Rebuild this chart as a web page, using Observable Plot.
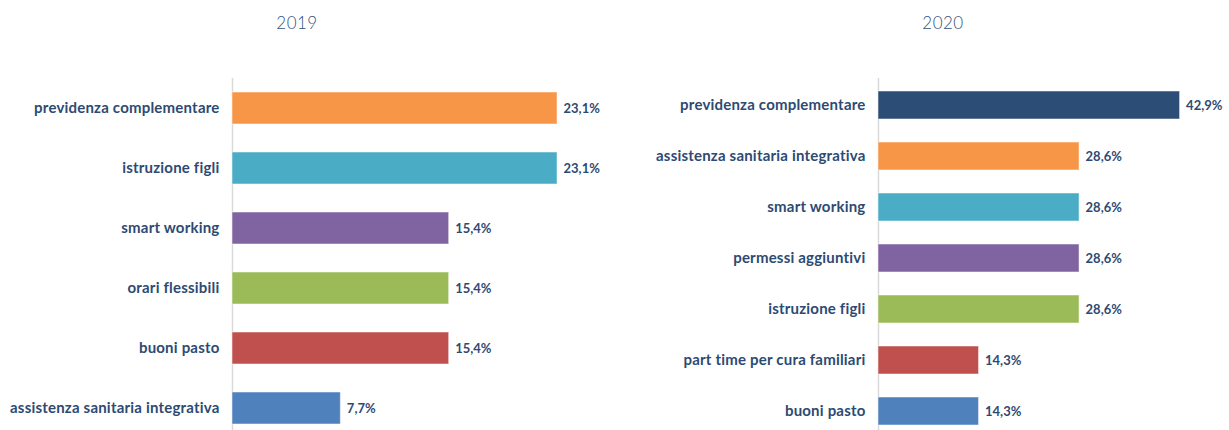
<!DOCTYPE html>
<html>
<head>
<meta charset="utf-8">
<script src="https://cdn.jsdelivr.net/npm/d3@7"></script>
<script src="https://cdn.jsdelivr.net/npm/@observablehq/plot@0.6"></script>
<style>
  html, body { margin: 0; padding: 0; background: #fff; }
  #wrap { position: relative; width: 1229px; height: 430px; overflow: hidden; font-family: Lato, "Open Sans", sans-serif; }
  .panel { position: absolute; top: 0; }
  .title { position: absolute; top: 12px; font-size: 17px; font-weight: 300; color: #34527e; transform: translateX(-50%); letter-spacing: 0.5px; }
  svg text { font-family: Lato, "Open Sans", sans-serif; }
  svg g[aria-label="y-axis tick label"] text { letter-spacing: 0.2px; }
</style>
</head>
<body>
<div id="wrap">
  <div class="title" style="left:297px">2019</div>
  <div class="title" style="left:943px">2020</div>
  <div class="panel" id="p2019" style="left:0px"></div>
  <div class="panel" id="p2020" style="left:615px"></div>
</div>
<script>
// ---- data ----
const categories2019 = ["previdenza complementare", "istruzione figli", "smart working", "orari flessibili", "buoni pasto", "assistenza sanitaria integrativa"];
const values2019 = [23.1, 23.1, 15.4, 15.4, 15.4, 7.7];
const palette2019 = ["#f79646", "#4bacc6", "#8064a2", "#9bbb59", "#c0504d", "#4f81bd"];

const categories2020 = ["previdenza complementare", "assistenza sanitaria integrativa", "smart working", "permessi aggiuntivi", "istruzione figli", "part time per cura familiari", "buoni pasto"];
const values2020 = [42.9, 28.6, 28.6, 28.6, 28.6, 14.3, 14.3];
const palette2020 = ["#2c4d75", "#f79646", "#4bacc6", "#8064a2", "#9bbb59", "#c0504d", "#4f81bd"];

const textColor = "#2d4a73";
const fmt = v => v.toFixed(1).replace(".", ",") + "%";

function panel(cats, vals, pal, opts) {
  const data = cats.map((c, i) => ({cat: c, value: vals[i]}));
  return Plot.plot({
    width: opts.width,
    height: 430,
    marginTop: 78, marginBottom: 0, marginLeft: opts.axisX, marginRight: 0,
    style: {fontFamily: "Lato, 'Open Sans', sans-serif", background: "transparent", overflow: "visible"},
    x: {domain: [0, opts.xmax], axis: null},
    y: {domain: cats, range: opts.yRange, paddingInner: opts.padIn, paddingOuter: opts.padIn / 2, axis: null, label: null},
    color: {domain: cats, range: pal},
    marks: [
      Plot.ruleX([0], {stroke: "#d9d9d9", strokeWidth: 1.5}),
      Plot.barX(data, {x: "value", y: "cat", fill: "cat", stroke: "white", strokeOpacity: 0.5, strokeWidth: 1}),
      Plot.text(data, {x: "value", y: "cat", text: d => fmt(d.value), textAnchor: "start", dx: 6, fill: textColor, fontWeight: "bold", fontSize: 13}),
      Plot.axisY({tickSize: 0, tickPadding: 13, fill: textColor, fontWeight: "bold", fontSize: 15, label: null})
    ]
  });
}

document.getElementById("p2019").append(panel(categories2019, values2019, palette2019, {
  width: 615, axisX: 232, xmax: (615 - 232) / 14.07, yRange: [78, 438], padIn: 0.467
}));
document.getElementById("p2020").append(panel(categories2020, values2020, palette2020, {
  width: 614, axisX: 263, xmax: (614 - 263) / 7.03, yRange: [77.25, 437.75], padIn: 0.456
}));
</script>
</body>
</html>
